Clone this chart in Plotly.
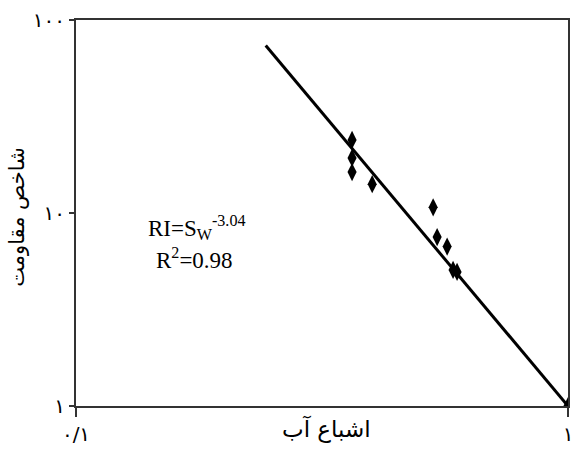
import plotly.graph_objects as go

# Measured data (water saturation vs resistivity index)
sw = [0.364, 0.364, 0.364, 0.400, 0.532, 0.542, 0.568, 0.584, 0.595, 1.0]
ri = [23.9, 19.3, 16.3, 14.1, 10.7, 7.5, 6.7, 5.07, 4.95, 1.0]

# Fitted power law RI = Sw^-n
n_exp = 3.04
fit_sw = [0.243, 1.0]
fit_ri = [s ** (-n_exp) for s in fit_sw]

x_tickvals = [0.1, 1]
x_ticktext = ["۰/۱", "۱"]
y_tickvals = [1, 10, 100]
y_ticktext = ["۱", "۱۰", "۱۰۰"]

x_title = "اشباع آب"
y_title = "شاخص مقاومت"

fig = go.Figure()
fig.add_trace(go.Scatter(x=fit_sw, y=fit_ri, mode="lines",
                         line=dict(color="black", width=3), showlegend=False))
fig.add_trace(go.Scatter(x=sw, y=ri, mode="markers",
                         marker=dict(symbol="diamond-tall", color="black", size=13),
                         showlegend=False))

serif = "Liberation Serif, Times New Roman, serif"
fig.add_annotation(x=0.245, y=0.462, xref="paper", yref="paper", showarrow=False,
                   xanchor="center", yanchor="middle",
                   text="RI=S<sub>W</sub><sup>-3.04</sup>",
                   font=dict(family=serif, size=23, color="black"))
fig.add_annotation(x=0.24, y=0.382, xref="paper", yref="paper", showarrow=False,
                   xanchor="center", yanchor="middle",
                   text="R<sup>2</sup>=0.98",
                   font=dict(family=serif, size=23, color="black"))

# axis titles
fig.add_annotation(x=(326 - 76) / 492, y=0, xref="paper", yref="paper", showarrow=False,
                   xanchor="center", yanchor="middle", yshift=-23, text=x_title,
                   font=dict(family="DejaVu Sans", size=23, color="black"))
fig.add_annotation(x=0, y=0.49, xref="paper", yref="paper", showarrow=False,
                   xanchor="center", yanchor="middle",
                   xshift=-59, textangle=-90, text=y_title,
                   font=dict(family="DejaVu Sans", size=21, color="black"))

axis_common = dict(showgrid=False, zeroline=False, showline=True, linecolor="#333",
                   linewidth=2, mirror=True, ticks="outside",
                   tickwidth=2, tickcolor="#333", automargin=False,
                   ticklabeloverflow="allow",
                   tickfont=dict(family="DejaVu Sans", size=20, color="black"))

fig.update_xaxes(type="log", range=[-1, 0], tickvals=x_tickvals, ticktext=x_ticktext,
                 ticklen=9, **axis_common)
fig.update_yaxes(type="log", range=[0, 2], tickvals=y_tickvals, ticktext=y_ticktext,
                 ticklen=5, **axis_common)

fig.update_layout(width=572, height=450, margin=dict(l=76, r=4, t=20, b=44, autoexpand=False),
                  paper_bgcolor="white", plot_bgcolor="white")

fig.write_html("out.html")
